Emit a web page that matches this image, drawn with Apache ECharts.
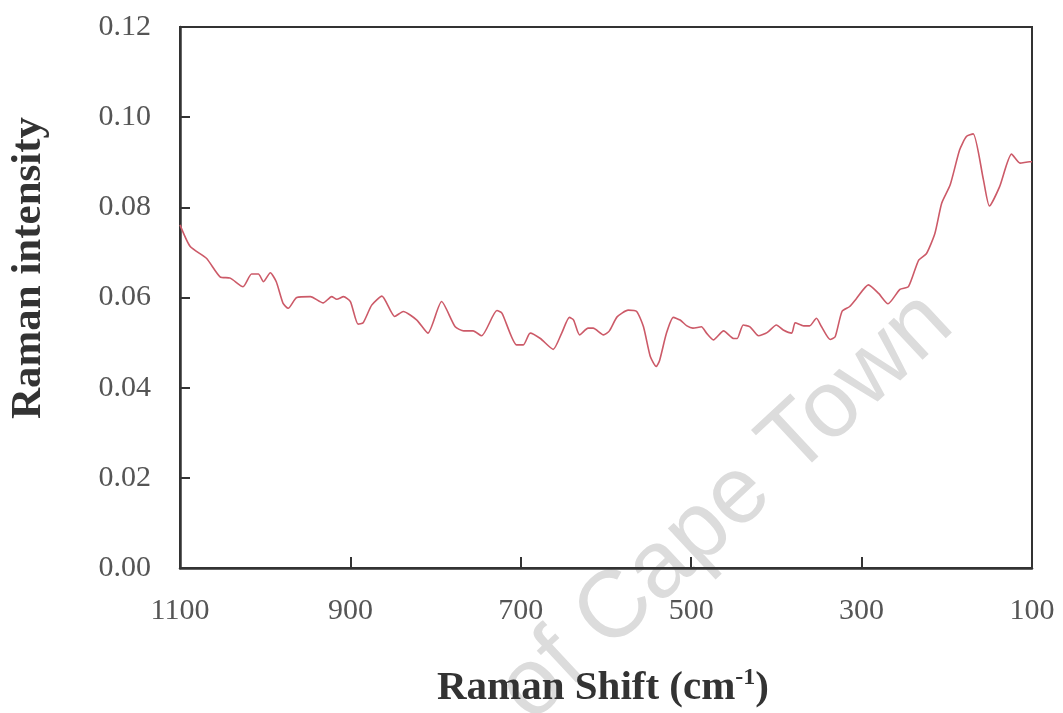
<!DOCTYPE html>
<html>
<head>
<meta charset="utf-8">
<script src="https://cdn.jsdelivr.net/npm/echarts@6/dist/echarts.min.js"></script>
<style>
  html, body { margin: 0; padding: 0; background: #ffffff; }
  #chart { width: 1063px; height: 713px; }
</style>
</head>
<body>
<div id="chart"></div>
<script>
// Raman shift (cm^-1)
var shift = [1100, 1088, 1069, 1053, 1041, 1026, 1016, 1008, 1002, 994, 987, 979, 973, 963, 947, 932, 922, 916, 908, 900,
  891, 885, 875, 863, 848, 838, 822, 809, 793, 777, 767, 756, 746, 728, 722, 705, 697, 689,
  677, 662, 652, 643, 638, 631, 621, 615, 603, 596, 587, 574, 564, 556, 548, 541, 537, 529, 521, 513, 505, 498,
  488, 482, 474, 462, 450, 446, 439, 431, 421, 411, 400, 392, 382, 378, 368, 361, 353, 347, 337, 331, 323, 314, 306, 292,
  280, 269, 255, 245, 233, 224, 214, 206, 196, 185, 177, 169, 157, 150, 138, 124, 114, 103, 100];
// Raman intensity
var intensity = [0.0761, 0.0713, 0.0687, 0.0646, 0.0643, 0.0624, 0.0652, 0.0652, 0.0635, 0.0655, 0.0635, 0.0587, 0.0576, 0.0600, 0.0602, 0.0588, 0.0602, 0.0596, 0.0602, 0.0591,
  0.0541, 0.0544, 0.0583, 0.0603, 0.0558, 0.0569, 0.0550, 0.0521, 0.0591, 0.0535, 0.0526, 0.0526, 0.0515, 0.0571, 0.0565, 0.0495, 0.0495, 0.0521,
  0.0509, 0.0485, 0.0521, 0.0556, 0.0550, 0.0517, 0.0532, 0.0532, 0.0517, 0.0526, 0.0557, 0.0572, 0.0569, 0.0535, 0.0469, 0.0447, 0.0461, 0.0521, 0.0556, 0.0550, 0.0537, 0.0532,
  0.0535, 0.0521, 0.0506, 0.0526, 0.0509, 0.0509, 0.0539, 0.0535, 0.0515, 0.0522, 0.0539, 0.0528, 0.0521, 0.0544, 0.0537, 0.0537, 0.0554, 0.0535, 0.0507, 0.0513, 0.0569, 0.0580, 0.0598, 0.0628,
  0.0609, 0.0586, 0.0618, 0.0624, 0.0683, 0.0697, 0.0742, 0.0809, 0.0850, 0.0927, 0.0957, 0.0963, 0.0861, 0.0803, 0.0846, 0.0918, 0.0898, 0.0901, 0.0901];

var xTicks = [1100, 900, 700, 500, 300, 100];
var yTicks = ['0.00', '0.02', '0.04', '0.06', '0.08', '0.10', '0.12'];
var xTitle = 'Raman Shift (cm';
var xTitleSup = '-1';
var yTitle = 'Raman intensity';
var watermark = 'of Cape Town';

var points = shift.map(function (s, i) { return [s, intensity[i]]; });

var chart = echarts.init(document.getElementById('chart'), null, { renderer: 'canvas' });
var axisColor = '#333333';
var labelStyle = { fontFamily: 'Liberation Serif', fontSize: 30, color: '#555555' };

chart.setOption({
  animation: false,
  backgroundColor: '#ffffff',
  grid: {
    left: 180, right: 31, top: 27, bottom: 145,
    show: true, borderColor: axisColor, borderWidth: 2, backgroundColor: 'transparent'
  },
  xAxis: {
    type: 'value',
    min: 100, max: 1100, interval: 200,
    inverse: true,
    axisLine: { show: true, lineStyle: { color: axisColor, width: 2.5 } },
    axisTick: { show: true, inside: true, length: 11, lineStyle: { color: axisColor, width: 2 } },
    axisLabel: Object.assign({ margin: 28, formatter: function (v) { return xTicks.indexOf(v) >= 0 ? String(v) : ''; } }, labelStyle),
    splitLine: { show: false }
  },
  yAxis: {
    type: 'value',
    min: 0, max: 0.12, interval: 0.02,
    axisLine: { show: true, lineStyle: { color: axisColor, width: 2.5 } },
    axisTick: { show: true, inside: true, length: 10, lineStyle: { color: axisColor, width: 2 } },
    axisLabel: Object.assign({ margin: 29, formatter: function (v) { return yTicks[Math.round(v / 0.02)]; } }, labelStyle),
    splitLine: { show: false }
  },
  graphic: [
    {
      type: 'text', silent: true, z: -10,
      x: 726, y: 507, rotation: 0.75,
      style: {
        text: watermark, fontFamily: 'Liberation Sans', fontSize: 95,
        fill: '#dcdcdc', align: 'center', verticalAlign: 'middle'
      }
    },
    {
      type: 'text', silent: true,
      x: 29, y: 268, rotation: Math.PI / 2,
      style: {
        text: yTitle, fontFamily: 'Liberation Serif', fontWeight: 'bold', fontSize: 43,
        fill: '#333333', align: 'center', verticalAlign: 'middle'
      }
    },
    {
      type: 'text', silent: true,
      x: 603, y: 688,
      style: {
        text: '{m|' + xTitle + '}{s|' + xTitleSup + '}{m|)}',
        fill: '#333333', align: 'center', verticalAlign: 'middle',
        rich: {
          m: { fontFamily: 'Liberation Serif', fontWeight: 'bold', fontSize: 41, fill: '#333333', lineHeight: 44 },
          s: { fontFamily: 'Liberation Serif', fontWeight: 'bold', fontSize: 24, fill: '#333333', verticalAlign: 'top', lineHeight: 24 }
        }
      }
    }
  ],
  series: [{
    type: 'line',
    data: points,
    showSymbol: false,
    smooth: 0.2,
    lineStyle: { color: '#cc5a68', width: 1.6 },
    z: 3
  }]
});
</script>
</body>
</html>
